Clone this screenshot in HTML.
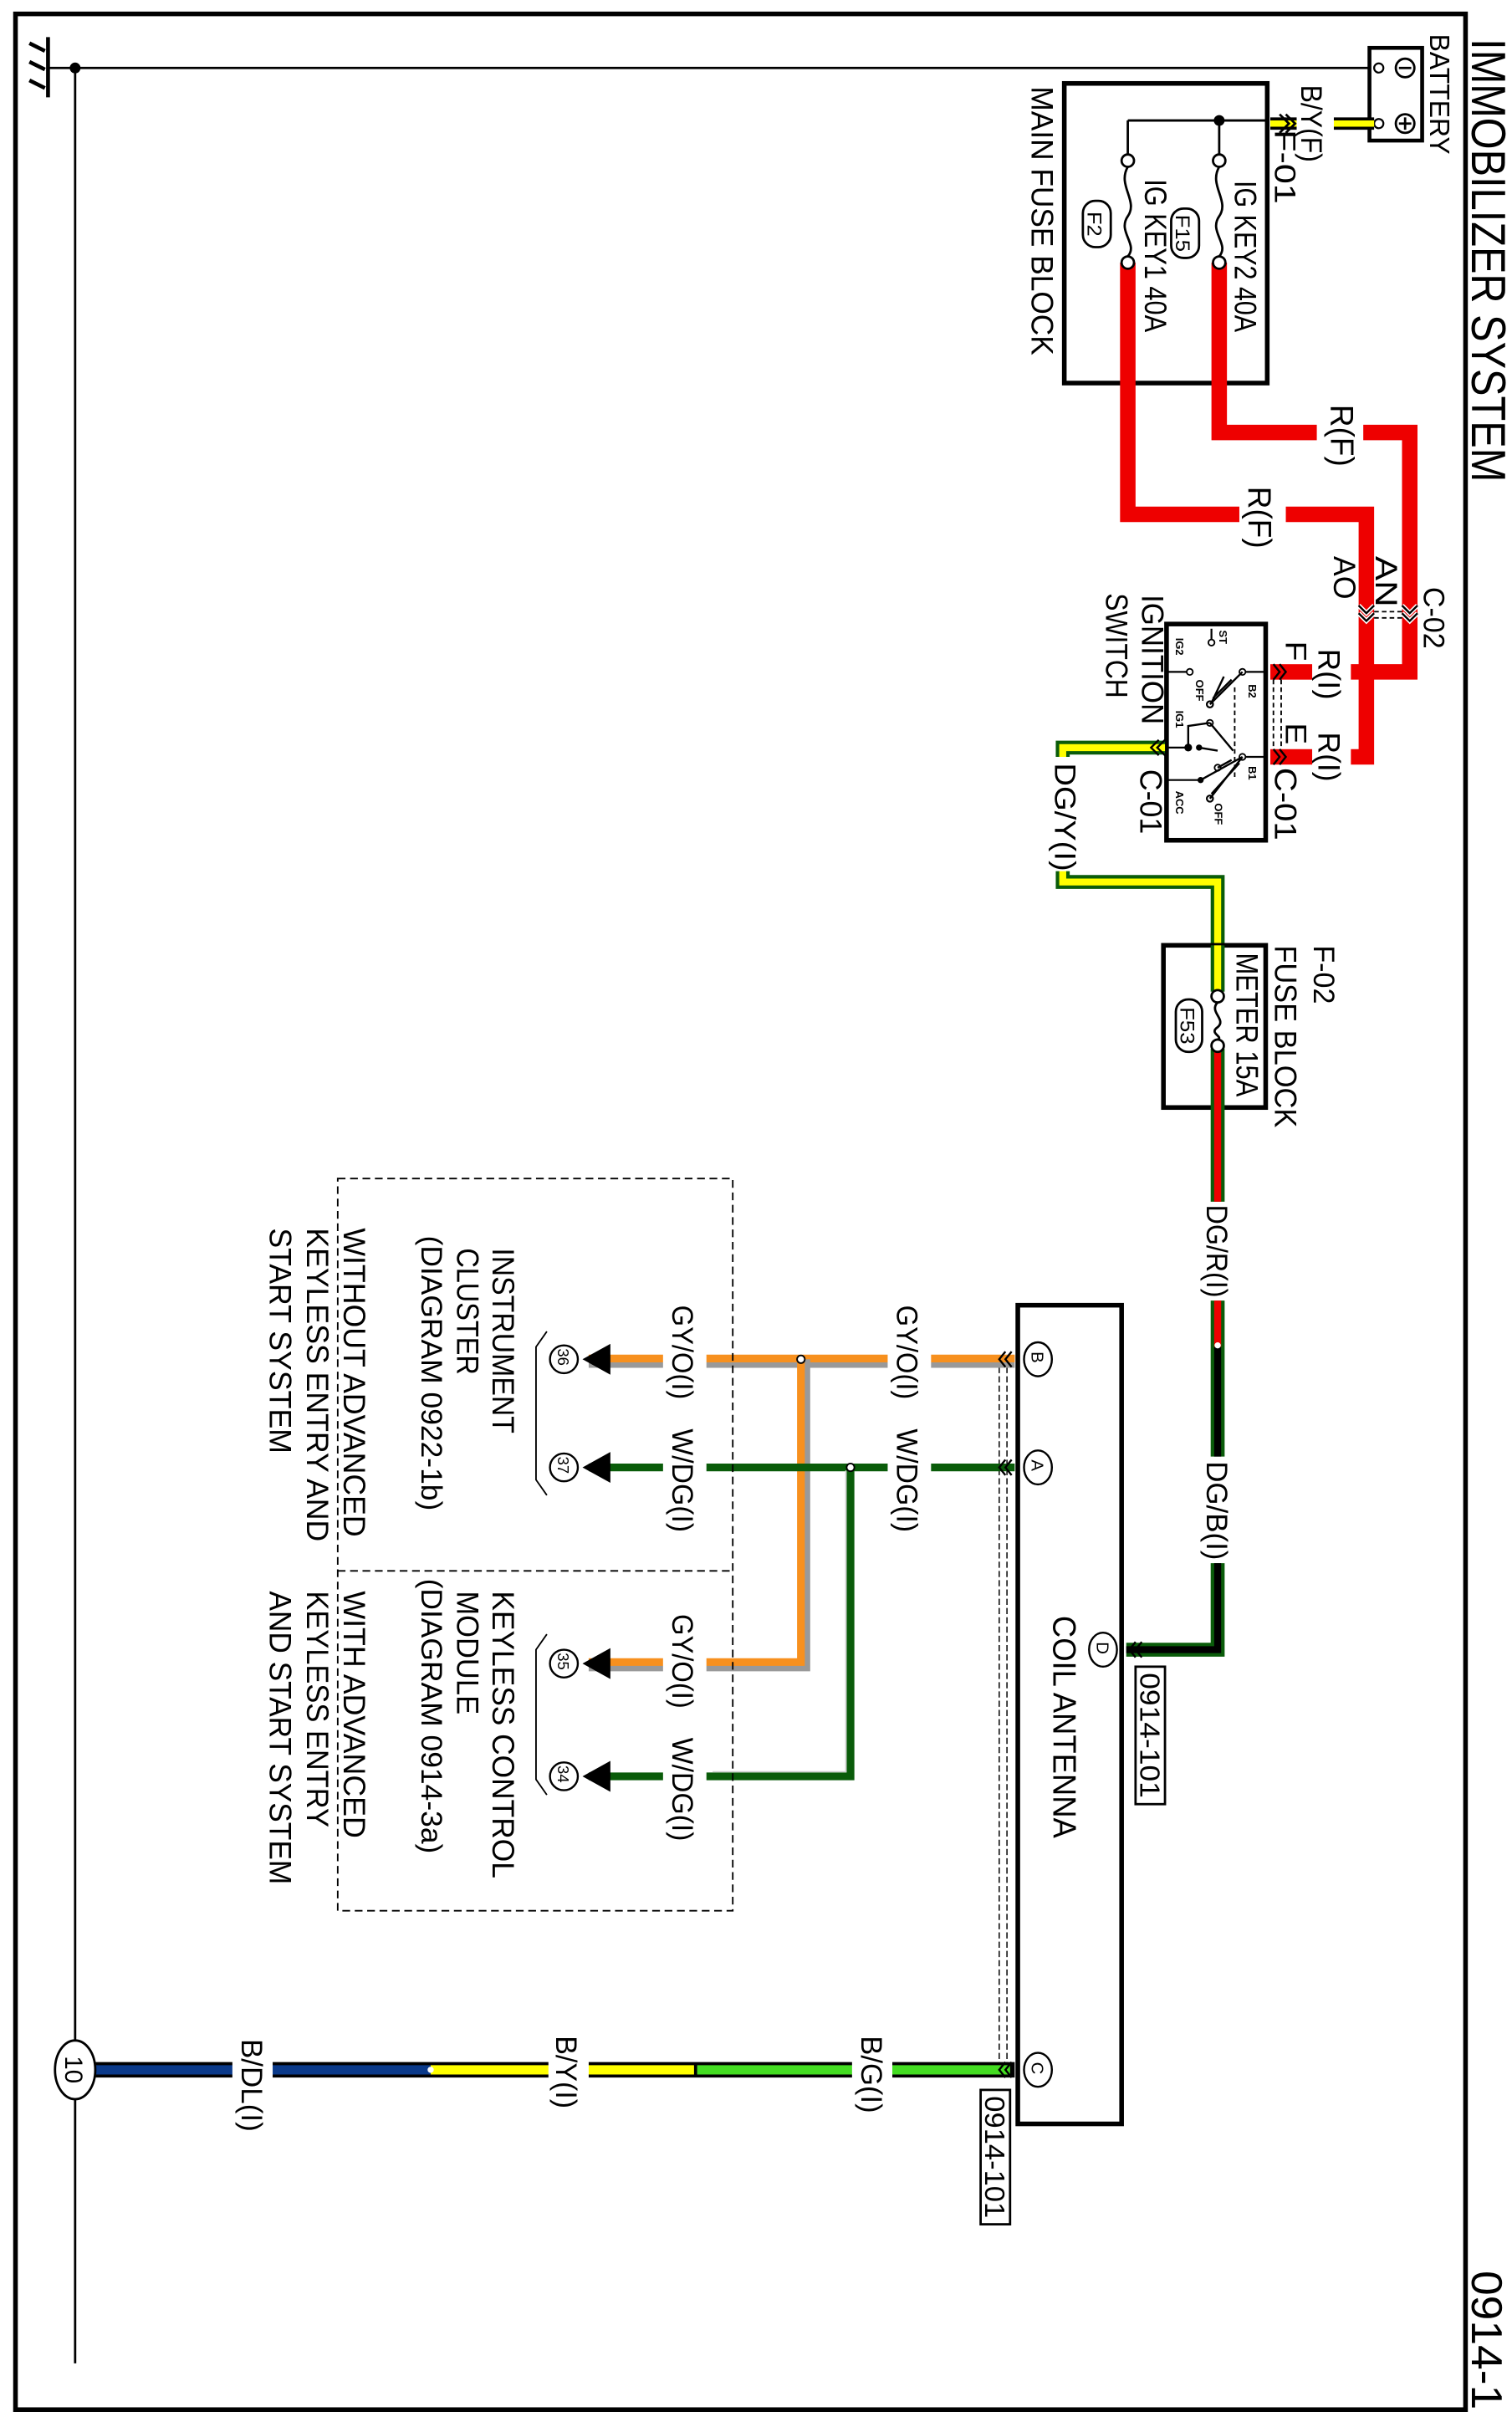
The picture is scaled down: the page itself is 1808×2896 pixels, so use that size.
<!DOCTYPE html>
<html><head><meta charset="utf-8"><style>
html,body{margin:0;padding:0;background:#fff;}
svg{display:block;}
text{font-family:"Liberation Sans",sans-serif;fill:#000;}
</style></head><body>
<svg width="1808" height="2896" viewBox="0 0 976 1568" preserveAspectRatio="none" xmlns="http://www.w3.org/2000/svg">
<rect x="0" y="0" width="976" height="1568" fill="#fff"/>
<rect x="10" y="9" width="936" height="1551" fill="none" stroke="#000" stroke-width="3"/>
<line x1="31" y1="24" x2="31" y2="63" stroke="#000" stroke-width="2.5"/>
<line x1="19" y1="28" x2="29" y2="33" stroke="#000" stroke-width="2.5"/>
<line x1="19" y1="40" x2="29" y2="45" stroke="#000" stroke-width="2.5"/>
<line x1="19" y1="52" x2="29" y2="57" stroke="#000" stroke-width="2.5"/>
<line x1="31" y1="44" x2="883" y2="44" stroke="#000" stroke-width="1.5"/>
<line x1="48.5" y1="44" x2="48.5" y2="1530" stroke="#000" stroke-width="1.5"/>
<circle cx="48.5" cy="44" r="3.5" fill="#000"/>
<rect x="884" y="31" width="34" height="60" fill="#fff" stroke="#000" stroke-width="2.5"/>
<circle cx="890" cy="44" r="3" fill="#fff" stroke="#000" stroke-width="1.2"/>
<circle cx="890" cy="80" r="3" fill="#fff" stroke="#000" stroke-width="1.2"/>
<circle cx="907" cy="44" r="6" fill="none" stroke="#000" stroke-width="1.5"/>
<line x1="903" y1="44" x2="911" y2="44" stroke="#000" stroke-width="1.5"/>
<circle cx="907" cy="80" r="6" fill="none" stroke="#000" stroke-width="1.5"/>
<line x1="903" y1="80" x2="911" y2="80" stroke="#000" stroke-width="1.5"/>
<line x1="907" y1="76" x2="907" y2="84" stroke="#000" stroke-width="1.5"/>
<text transform="translate(923,22) rotate(90)" font-size="18" textLength="78" lengthAdjust="spacingAndGlyphs">BATTERY</text>
<text transform="translate(950,25) rotate(90)" font-size="31" textLength="287" lengthAdjust="spacingAndGlyphs">IMMOBILIZER SYSTEM</text>
<text transform="translate(950,1470) rotate(90)" font-size="28" textLength="90" lengthAdjust="spacingAndGlyphs">0914-1</text>
<line x1="820" y1="80" x2="887" y2="80" stroke="#000" stroke-width="8"/>
<line x1="820" y1="80" x2="887" y2="80" stroke="#ffff00" stroke-width="4"/>
<rect x="837" y="70" width="24" height="20" fill="#fff"/>
<text transform="translate(840,55) rotate(90)" font-size="19" textLength="50" lengthAdjust="spacingAndGlyphs">B/Y(F)</text>
<path d="M826,74 L832,80 L826,86 M830,74 L836,80 L830,86" fill="none" stroke="#000" stroke-width="1.5"/>
<text transform="translate(823,84) rotate(90)" font-size="19" textLength="48" lengthAdjust="spacingAndGlyphs">F-01</text>
<rect x="687" y="54" width="131" height="194" fill="#fff" stroke="#000" stroke-width="3"/>
<path d="M787,170 L787,280 L910,280 L910,435 L872,435" fill="none" stroke="#ee0000" stroke-width="10"/>
<path d="M728,170 L728,333 L882,333 L882,490 L872,490" fill="none" stroke="#ee0000" stroke-width="10"/>
<rect x="820" y="430" width="27" height="10" fill="#ee0000"/>
<rect x="820" y="485" width="27" height="10" fill="#ee0000"/>
<rect x="850" y="270" width="30" height="22" fill="#fff"/>
<rect x="800" y="323" width="30" height="22" fill="#fff"/>
<text transform="translate(859,262) rotate(90)" font-size="21" textLength="40" lengthAdjust="spacingAndGlyphs">R(F)</text>
<text transform="translate(806,315) rotate(90)" font-size="21" textLength="40" lengthAdjust="spacingAndGlyphs">R(F)</text>
<path d="M787,78 L787,100 M728,78 L728,100 M728,78 L818,78" fill="none" stroke="#000" stroke-width="1.5"/>
<circle cx="787" cy="78" r="3.5" fill="#000"/>
<circle cx="787" cy="104" r="4" fill="#fff" stroke="#000" stroke-width="1.5"/>
<circle cx="787" cy="170" r="4" fill="#fff" stroke="#000" stroke-width="1.5"/>
<circle cx="728" cy="104" r="4" fill="#fff" stroke="#000" stroke-width="1.5"/>
<circle cx="728" cy="170" r="4" fill="#fff" stroke="#000" stroke-width="1.5"/>
<path d="M787,108 C780,120 794,130 787,140 C780,150 794,158 787,166" fill="none" stroke="#000" stroke-width="1.5"/>
<path d="M728,108 C721,120 735,130 728,140 C721,150 735,158 728,166" fill="none" stroke="#000" stroke-width="1.5"/>
<text transform="translate(797,117) rotate(90)" font-size="20" textLength="98" lengthAdjust="spacingAndGlyphs">IG KEY2 40A</text>
<text transform="translate(739,116) rotate(90)" font-size="20" textLength="99" lengthAdjust="spacingAndGlyphs">IG KEY1 40A</text>
<rect x="756" y="135" width="18" height="32" rx="8" fill="#fff" stroke="#000" stroke-width="1.5"/>
<text transform="translate(759,139) rotate(90)" font-size="13" textLength="24" lengthAdjust="spacingAndGlyphs">F15</text>
<rect x="699" y="130" width="18" height="30" rx="8" fill="#fff" stroke="#000" stroke-width="1.5"/>
<text transform="translate(702,137) rotate(90)" font-size="13" textLength="16" lengthAdjust="spacingAndGlyphs">F2</text>
<text transform="translate(666,56) rotate(90)" font-size="20" textLength="174" lengthAdjust="spacingAndGlyphs">MAIN FUSE BLOCK</text>
<path d="M877,392 L882,397 L887,392 M877,397 L882,402 L887,397" fill="none" stroke="#fff" stroke-width="3"/>
<path d="M877,392 L882,397 L887,392 M877,397 L882,402 L887,397" fill="none" stroke="#000" stroke-width="1.3"/>
<path d="M905,392 L910,397 L915,392 M905,397 L910,402 L915,397" fill="none" stroke="#fff" stroke-width="3"/>
<path d="M905,392 L910,397 L915,392 M905,397 L910,402 L915,397" fill="none" stroke="#000" stroke-width="1.3"/>
<line x1="887" y1="396" x2="905" y2="396" stroke="#000" stroke-width="1" stroke-dasharray="3,2"/>
<line x1="887" y1="400" x2="905" y2="400" stroke="#000" stroke-width="1" stroke-dasharray="3,2"/>
<text transform="translate(888,360) rotate(90)" font-size="20" textLength="33" lengthAdjust="spacingAndGlyphs">AN</text>
<text transform="translate(861,360) rotate(90)" font-size="20" textLength="28" lengthAdjust="spacingAndGlyphs">AO</text>
<text transform="translate(919,380) rotate(90)" font-size="19" textLength="40" lengthAdjust="spacingAndGlyphs">C-02</text>
<text transform="translate(851,420) rotate(90)" font-size="20" textLength="33" lengthAdjust="spacingAndGlyphs">R(I)</text>
<text transform="translate(851,474) rotate(90)" font-size="20" textLength="32" lengthAdjust="spacingAndGlyphs">R(I)</text>
<text transform="translate(830,415) rotate(90)" font-size="19" textLength="13" lengthAdjust="spacingAndGlyphs">F</text>
<text transform="translate(830,468) rotate(90)" font-size="19" textLength="14" lengthAdjust="spacingAndGlyphs">E</text>
<rect x="753" y="404" width="64" height="140" fill="#fff" stroke="#000" stroke-width="3"/>
<path d="M822,430 L826,435 L822,440 M826,430 L830,435 L826,440 M822,485 L826,490 L822,495 M826,485 L830,490 L826,495" fill="none" stroke="#000" stroke-width="1.3"/>
<line x1="822" y1="440" x2="822" y2="485" stroke="#000" stroke-width="1" stroke-dasharray="3,2"/>
<line x1="827" y1="440" x2="827" y2="485" stroke="#000" stroke-width="1" stroke-dasharray="3,2"/>
<path d="M802,435 L817,435 M802,490 L817,490 M753,435 L768,435 M753,484 L767,484 M753,505 L774,505 M782,407 L782,414" fill="none" stroke="#000" stroke-width="1.2"/>
<circle cx="782" cy="416" r="2" fill="#fff" stroke="#000" stroke-width="1"/>
<circle cx="768" cy="435" r="2" fill="#fff" stroke="#000" stroke-width="1"/>
<circle cx="802" cy="435" r="2" fill="#fff" stroke="#000" stroke-width="1"/>
<circle cx="802" cy="490" r="2" fill="#fff" stroke="#000" stroke-width="1"/>
<circle cx="781" cy="456" r="2" fill="#fff" stroke="#000" stroke-width="1.2"/>
<circle cx="781" cy="517" r="2" fill="#fff" stroke="#000" stroke-width="1.2"/>
<circle cx="781" cy="468" r="2" fill="#fff" stroke="#000" stroke-width="1"/>
<circle cx="767" cy="484" r="2.5" fill="#000"/>
<circle cx="774" cy="484" r="2" fill="#000"/>
<circle cx="775" cy="505" r="2" fill="#000"/>
<circle cx="786" cy="497" r="2" fill="#fff" stroke="#000" stroke-width="1"/>
<path d="M802,435 L781,456 M795,440 L783,452 M790,438 L782,455 M802,490 L775,505 M802,490 L781,517 M800,494 L782,514 M795,492 L786,497 M767,484 L767,470 L781,468 M781,468 L796,486 M774,484 L786,486" fill="none" stroke="#000" stroke-width="1.3"/>
<line x1="797" y1="445" x2="797" y2="505" stroke="#000" stroke-width="1" stroke-dasharray="3,2"/>
<text transform="translate(787,408) rotate(90)" font-size="7" font-weight="bold">ST</text>
<text transform="translate(759,413) rotate(90)" font-size="7" font-weight="bold">IG2</text>
<text transform="translate(772,440) rotate(90)" font-size="7" font-weight="bold">OFF</text>
<text transform="translate(806,443) rotate(90)" font-size="7" font-weight="bold">B2</text>
<text transform="translate(759,460) rotate(90)" font-size="7" font-weight="bold">IG1</text>
<text transform="translate(806,496) rotate(90)" font-size="7" font-weight="bold">B1</text>
<text transform="translate(759,512) rotate(90)" font-size="7" font-weight="bold">ACC</text>
<text transform="translate(784,520) rotate(90)" font-size="7" font-weight="bold">OFF</text>
<text transform="translate(823,497) rotate(90)" font-size="20" textLength="47" lengthAdjust="spacingAndGlyphs">C-01</text>
<text transform="translate(736,498) rotate(90)" font-size="20" textLength="42" lengthAdjust="spacingAndGlyphs">C-01</text>
<text transform="translate(737,385) rotate(90)" font-size="20" textLength="84" lengthAdjust="spacingAndGlyphs">IGNITION</text>
<text transform="translate(714,384) rotate(90)" font-size="20" textLength="68" lengthAdjust="spacingAndGlyphs">SWITCH</text>
<path d="M752,484 L686,484 L686,571 L786,571 L786,644" fill="none" stroke="#0a5c0a" stroke-width="9"/>
<path d="M752,484 L686,484 L686,571 L786,571 L786,644" fill="none" stroke="#ffff00" stroke-width="4.5"/>
<path d="M748,479 L743,484 L748,489 M752,479 L747,484 L752,489" fill="none" stroke="#000" stroke-width="1.3"/>
<rect x="678" y="490" width="20" height="74" fill="#fff"/>
<text transform="translate(681,494) rotate(90)" font-size="19" textLength="70" lengthAdjust="spacingAndGlyphs">DG/Y(I)</text>
<rect x="751" y="612" width="66" height="105" fill="#fff" stroke="#000" stroke-width="3"/>
<path d="M786,612 L786,642" stroke="#0a5c0a" stroke-width="9"/>
<path d="M786,612 L786,642" stroke="#ffff00" stroke-width="4.5"/>
<path d="M786,679 L786,778 M786,842 L786,872" fill="none" stroke="#0a5c0a" stroke-width="9"/>
<path d="M786,679 L786,778 M786,842 L786,872" fill="none" stroke="#ee0000" stroke-width="4.5"/>
<path d="M786,872 L786,943 M786,1012 L786,1068 L727,1068" fill="none" stroke="#0a5c0a" stroke-width="9"/>
<path d="M786,872 L786,943 M786,1012 L786,1068 L727,1068" fill="none" stroke="#000" stroke-width="4.5"/>
<circle cx="786" cy="871" r="2" fill="#fff"/>
<circle cx="786" cy="645" r="4" fill="#fff" stroke="#000" stroke-width="1.5"/>
<circle cx="786" cy="677" r="4" fill="#fff" stroke="#000" stroke-width="1.5"/>
<path d="M786,649 C780,655 792,660 786,665 C780,669 790,671 786,673" fill="none" stroke="#000" stroke-width="1.5"/>
<rect x="759" y="647" width="17" height="34" rx="8" fill="#fff" stroke="#000" stroke-width="1.5"/>
<text transform="translate(762,652) rotate(90)" font-size="13" textLength="24" lengthAdjust="spacingAndGlyphs">F53</text>
<text transform="translate(798,617) rotate(90)" font-size="20" textLength="93" lengthAdjust="spacingAndGlyphs">METER 15A</text>
<text transform="translate(823,612) rotate(90)" font-size="20" textLength="118" lengthAdjust="spacingAndGlyphs">FUSE BLOCK</text>
<text transform="translate(848,612) rotate(90)" font-size="19" textLength="38" lengthAdjust="spacingAndGlyphs">F-02</text>
<text transform="translate(779,780) rotate(90)" font-size="19" textLength="60" lengthAdjust="spacingAndGlyphs">DG/R(I)</text>
<text transform="translate(779,946) rotate(90)" font-size="19" textLength="64" lengthAdjust="spacingAndGlyphs">DG/B(I)</text>
<rect x="657" y="845" width="67" height="530" fill="#fff" stroke="#000" stroke-width="3"/>
<path d="M733,1063 L729,1068 L733,1073 M737,1063 L733,1068 L737,1073" fill="none" stroke="#000" stroke-width="1.3"/>
<ellipse cx="712" cy="1068" rx="9" ry="11" fill="#fff" stroke="#000" stroke-width="1.3"/>
<text transform="translate(708,1063) rotate(90)" font-size="11">D</text>
<ellipse cx="670" cy="880" rx="9" ry="11" fill="#fff" stroke="#000" stroke-width="1.3"/>
<text transform="translate(666,875) rotate(90)" font-size="11">B</text>
<ellipse cx="670" cy="950" rx="9" ry="11" fill="#fff" stroke="#000" stroke-width="1.3"/>
<text transform="translate(666,945) rotate(90)" font-size="11">A</text>
<ellipse cx="670" cy="1340" rx="9" ry="11" fill="#fff" stroke="#000" stroke-width="1.3"/>
<text transform="translate(666,1335) rotate(90)" font-size="11">C</text>
<text transform="translate(680,1046) rotate(90)" font-size="21" textLength="144" lengthAdjust="spacingAndGlyphs">COIL ANTENNA</text>
<rect x="733" y="1079" width="19" height="89" fill="#fff" stroke="#000" stroke-width="1.5"/>
<text transform="translate(736,1083) rotate(90)" font-size="18" textLength="81" lengthAdjust="spacingAndGlyphs">0914-101</text>
<rect x="633" y="1353" width="19" height="87" fill="#fff" stroke="#000" stroke-width="1.5"/>
<text transform="translate(636,1357) rotate(90)" font-size="18" textLength="79" lengthAdjust="spacingAndGlyphs">0914-101</text>
<line x1="645" y1="885" x2="645" y2="1340" stroke="#000" stroke-width="0.8" stroke-dasharray="4,2"/>
<line x1="650" y1="885" x2="650" y2="1340" stroke="#000" stroke-width="0.8" stroke-dasharray="4,2"/>
<path d="M380,881.5 L655,881.5" stroke="#999" stroke-width="8"/>
<path d="M380,879.5 L655,879.5" stroke="#f7901e" stroke-width="5"/>
<path d="M519,880 L519,1078 L380,1078" fill="none" stroke="#999" stroke-width="8"/>
<path d="M517,880 L517,1076 L380,1076" fill="none" stroke="#f7901e" stroke-width="5"/>
<circle cx="517" cy="880" r="2.5" fill="#fff" stroke="#000" stroke-width="1"/>
<path d="M380,950 L655,950" stroke="#0a5c0a" stroke-width="5"/>
<path d="M549,950 L549,1150 L380,1150" fill="none" stroke="#0a5c0a" stroke-width="5"/>
<path d="M546,952 L546,1147 L460,1147" fill="none" stroke="#ccc" stroke-width="0.8"/>
<circle cx="549" cy="950" r="2.5" fill="#fff" stroke="#000" stroke-width="1"/>
<path d="M649,875 L645,880 L649,885 M653,875 L649,880 L653,885 M649,945 L645,950 L649,955 M653,945 L649,950 L653,955" fill="none" stroke="#000" stroke-width="1.3"/>
<rect x="573" y="870" width="28" height="90" fill="#fff"/>
<rect x="428" y="870" width="28" height="90" fill="#fff"/>
<rect x="428" y="1068" width="28" height="90" fill="#fff"/>
<text transform="translate(579,845) rotate(90)" font-size="19" textLength="61" lengthAdjust="spacingAndGlyphs">GY/O(I)</text>
<text transform="translate(579,925) rotate(90)" font-size="19" textLength="67" lengthAdjust="spacingAndGlyphs">W/DG(I)</text>
<text transform="translate(434,845) rotate(90)" font-size="19" textLength="61" lengthAdjust="spacingAndGlyphs">GY/O(I)</text>
<text transform="translate(434,925) rotate(90)" font-size="19" textLength="67" lengthAdjust="spacingAndGlyphs">W/DG(I)</text>
<text transform="translate(434,1045) rotate(90)" font-size="19" textLength="61" lengthAdjust="spacingAndGlyphs">GY/O(I)</text>
<text transform="translate(434,1125) rotate(90)" font-size="19" textLength="67" lengthAdjust="spacingAndGlyphs">W/DG(I)</text>
<rect x="218" y="763" width="255" height="474" fill="none" stroke="#000" stroke-width="1" stroke-dasharray="5,3"/>
<line x1="218" y1="1017" x2="473" y2="1017" stroke="#000" stroke-width="1" stroke-dasharray="5,3"/>
<path d="M394,870 L376,880 L394,890 Z M394,940 L376,950 L394,960 Z M394,1067 L376,1077 L394,1087 Z M394,1140 L376,1150 L394,1160 Z" fill="#000"/>
<circle cx="364" cy="880" r="9" fill="#fff" stroke="#000" stroke-width="1.3"/>
<circle cx="364" cy="950" r="9" fill="#fff" stroke="#000" stroke-width="1.3"/>
<circle cx="364" cy="1077" r="9" fill="#fff" stroke="#000" stroke-width="1.3"/>
<circle cx="364" cy="1150" r="9" fill="#fff" stroke="#000" stroke-width="1.3"/>
<text transform="translate(360,873) rotate(90)" font-size="10">36</text>
<text transform="translate(360,943) rotate(90)" font-size="10">37</text>
<text transform="translate(360,1070) rotate(90)" font-size="10">35</text>
<text transform="translate(360,1143) rotate(90)" font-size="10">34</text>
<path d="M353,862 L346,872 L346,958 L353,968 M353,1058 L346,1068 L346,1152 L353,1162" fill="none" stroke="#000" stroke-width="1"/>
<text transform="translate(318,808) rotate(90)" font-size="20" textLength="120" lengthAdjust="spacingAndGlyphs">INSTRUMENT</text>
<text transform="translate(295,808) rotate(90)" font-size="20" textLength="82" lengthAdjust="spacingAndGlyphs">CLUSTER</text>
<text transform="translate(272,800) rotate(90)" font-size="19" textLength="178" lengthAdjust="spacingAndGlyphs">(DIAGRAM  0922-1b)</text>
<text transform="translate(222,795) rotate(90)" font-size="20" textLength="200" lengthAdjust="spacingAndGlyphs">WITHOUT ADVANCED</text>
<text transform="translate(198,795) rotate(90)" font-size="20" textLength="203" lengthAdjust="spacingAndGlyphs">KEYLESS ENTRY AND</text>
<text transform="translate(174,795) rotate(90)" font-size="20" textLength="146" lengthAdjust="spacingAndGlyphs">START SYSTEM</text>
<text transform="translate(318,1030) rotate(90)" font-size="20" textLength="186" lengthAdjust="spacingAndGlyphs">KEYLESS CONTROL</text>
<text transform="translate(295,1030) rotate(90)" font-size="20" textLength="80" lengthAdjust="spacingAndGlyphs">MODULE</text>
<text transform="translate(272,1022) rotate(90)" font-size="19" textLength="178" lengthAdjust="spacingAndGlyphs">(DIAGRAM  0914-3a)</text>
<text transform="translate(222,1030) rotate(90)" font-size="20" textLength="160" lengthAdjust="spacingAndGlyphs">WITH ADVANCED</text>
<text transform="translate(198,1030) rotate(90)" font-size="20" textLength="153" lengthAdjust="spacingAndGlyphs">KEYLESS ENTRY</text>
<text transform="translate(174,1030) rotate(90)" font-size="20" textLength="190" lengthAdjust="spacingAndGlyphs">AND START SYSTEM</text>
<line x1="58" y1="1340" x2="655" y2="1340" stroke="#000" stroke-width="10"/>
<line x1="60" y1="1340" x2="278" y2="1340" stroke="#0b3a8a" stroke-width="6"/>
<line x1="278" y1="1340" x2="448" y2="1340" stroke="#ffff00" stroke-width="6"/>
<line x1="450" y1="1340" x2="652" y2="1340" stroke="#44dd22" stroke-width="6"/>
<circle cx="278" cy="1340" r="2" fill="#fff"/>
<rect x="150" y="1330" width="26" height="20" fill="#fff"/>
<rect x="354" y="1330" width="26" height="20" fill="#fff"/>
<rect x="550" y="1330" width="26" height="20" fill="#fff"/>
<path d="M649,1335 L645,1340 L649,1345 M653,1335 L649,1340 L653,1345" fill="none" stroke="#000" stroke-width="1.3"/>
<text transform="translate(556,1318) rotate(90)" font-size="19" textLength="50" lengthAdjust="spacingAndGlyphs">B/G(I)</text>
<text transform="translate(359,1318) rotate(90)" font-size="19" textLength="47" lengthAdjust="spacingAndGlyphs">B/Y(I)</text>
<text transform="translate(156,1320) rotate(90)" font-size="19" textLength="60" lengthAdjust="spacingAndGlyphs">B/DL(I)</text>
<ellipse cx="48.5" cy="1340" rx="13" ry="19" fill="#fff" stroke="#000" stroke-width="1.5"/>
<text transform="translate(42,1331) rotate(90)" font-size="16">10</text>
</svg>
</body></html>
